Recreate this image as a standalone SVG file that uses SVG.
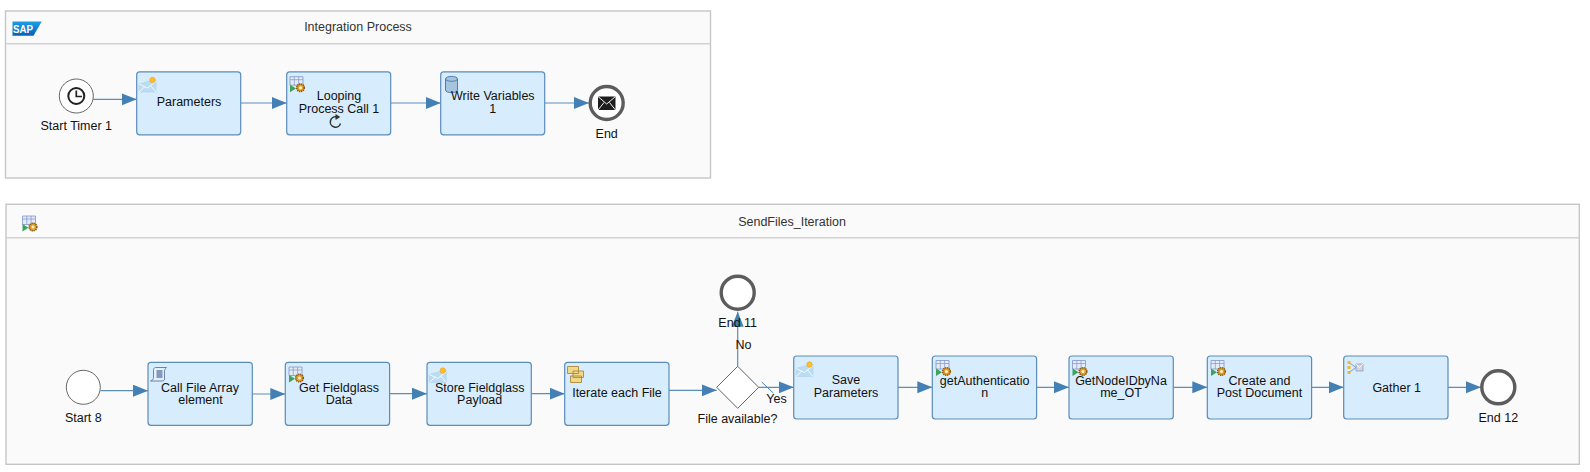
<svg xmlns="http://www.w3.org/2000/svg" width="1590" height="472" viewBox="0 0 1590 472">
<style>
text{font-family:"Liberation Sans",Arial,sans-serif;font-size:12.500px;fill:#111;text-anchor:middle}
.title{fill:#333}
.pool{fill:#fafafa;stroke:#c6c6c6;stroke-width:1.4}
.sep{stroke:#d2d2d2;stroke-width:1.4;fill:none}
.task{fill:#d7ecfd;stroke:#5a8dba;stroke-width:1.2}
.ev{fill:#fff;stroke:#666;stroke-width:1}
.end{fill:#fff;stroke:#5c5c5c;stroke-width:3.4}
.c{fill:none;stroke:#5a8fbc;stroke-width:1.2;marker-end:url(#a)}
</style>
<defs>
<marker id="a" markerUnits="userSpaceOnUse" markerWidth="16" markerHeight="13" refX="15" refY="6" orient="auto"><path d="M0 0L15 6L0 12Z" fill="#4480b3"/></marker>
<linearGradient id="sg" x1="0" y1="0" x2="0" y2="1"><stop offset="0" stop-color="#1aa0e8"/><stop offset="1" stop-color="#0a5fb5"/></linearGradient>
<g id="env"><path d="M0 4L14 0L17 0V12H0Z" fill="#bcdcf2" stroke="#a9cde6" stroke-width=".5"/><path d="M0 4L8.500 8L17 1M0 12L6 6.500M17 12L11 5" fill="none" stroke="#f2f9fe" stroke-width="1"/><circle cx="13.500" cy="0" r="2.700" fill="#fbc02d" stroke="#f59a23" stroke-width=".6"/></g>
<g id="proc"><path d="M0 0H13V8.500H0Z" fill="#e3ebf8" stroke="#7f95c8" stroke-width=".8"/><path d="M0 3H13M4.300 0V8.500M8.600 0V8.500" stroke="#7f95c8" stroke-width=".7" fill="none"/><path d="M0 8V15.500L6 11.700Z" fill="#3fa35c"/><circle cx="10.500" cy="11" r="3.800" fill="#e0a030" stroke="#8a5a10" stroke-width="1.600" stroke-dasharray="1.300 .7"/><circle cx="10.500" cy="11" r="1.500" fill="#fff2c4"/></g>
</defs>

<g id="pool-integration">
<rect class="pool" x="5.500" y="11" width="705" height="167"/>
<path class="sep" d="M5.500 43.700H710.500"/>
<path d="M12.500 21.500H41.700L33.500 35.700H12.500Z" fill="url(#sg)"/>
<text x="23" y="33" style="font-size:11.500px;font-weight:bold;fill:#fff" textLength="20" lengthAdjust="spacingAndGlyphs">SAP</text>
<text class="title" x="358" y="31">Integration Process</text>
</g>

<g id="pool-sendfiles">
<rect class="pool" x="6" y="204.300" width="1573.300" height="260"/>
<path class="sep" d="M6 237.700H1579.300"/>
<use href="#proc" transform="translate(22.500 216)"/>
<text class="title" x="792" y="226">SendFiles_Iteration</text>
</g>

<g id="connectors">
<path class="c" d="M93 99.300H136.700"/>
<path class="c" d="M240.700 103H286.700"/>
<path class="c" d="M390.700 103H440.700"/>
<path class="c" d="M545 103H589"/>
<path class="c" d="M100.500 390.700H148"/>
<path class="c" d="M252.300 394H285.300"/>
<path class="c" d="M389.600 393.700H427"/>
<path class="c" d="M531.300 393.700H564.700"/>
<path class="c" d="M669 390.300H716.700"/>
<path class="c" d="M737.700 366.300V311.700"/>
<path class="c" d="M758.700 387.300H793.700"/>
<path d="M761.700 382L773.300 393" fill="none" stroke="#4b83b4" stroke-width="1"/>
<path class="c" d="M898 387.300H932.300"/>
<path class="c" d="M1036.700 387.300H1069"/>
<path class="c" d="M1173.300 387.300H1207.300"/>
<path class="c" d="M1311.700 387.300H1343.700"/>
<path class="c" d="M1448 387.300H1481"/>
</g>

<g id="start-timer-1">
<circle class="ev" cx="76.300" cy="96" r="17"/>
<circle cx="76.300" cy="96" r="8" fill="none" stroke="#222" stroke-width="2"/>
<path d="M76.300 90.500V96.500H82" fill="none" stroke="#222" stroke-width="1.700"/>
<text x="76.300" y="130">Start Timer 1</text>
</g>
<g id="parameters">
<rect class="task" x="136.700" y="71.800" width="104" height="63" rx="3"/>
<use href="#env" x="139" y="80"/>
<text x="189" y="106">Parameters</text>
</g>
<g id="looping-process-call-1">
<rect class="task" x="286.700" y="71.800" width="104" height="63" rx="3"/>
<use href="#proc" x="290" y="76.700"/>
<text x="339" y="100">Looping</text>
<text x="339" y="113">Process Call 1</text>
<path d="M340.500 123.500A5.200 5.200 0 1 1 336.500 116.800" fill="none" stroke="#333" stroke-width="1.500"/>
<path d="M335.500 114L340.300 117L335.500 120Z" fill="#333"/>
</g>
<g id="write-variables-1">
<rect class="task" x="440.700" y="71.800" width="104" height="63" rx="3"/>
<path d="M445.500 79C445.500 75.500 457.500 75.500 457.500 79V90C457.500 93.500 445.500 93.500 445.500 90Z" fill="#a6c4df" stroke="#4f7ea8" stroke-width="1"/>
<path d="M445.500 79C445.500 82 457.500 82 457.500 79" fill="none" stroke="#4f7ea8" stroke-width="1"/>
<text x="492.800" y="100">Write Variables</text>
<text x="492.800" y="113">1</text>
</g>
<g id="end">
<circle class="end" cx="606.700" cy="103" r="16.500"/>
<path d="M598 96.500H615.500V110H598Z" fill="#1d1d1d"/>
<path d="M598 96.500L606.700 104L615.500 96.500M598 110L604 102.500M615.500 110L609.500 102.500" fill="none" stroke="#f2f2f2" stroke-width="1"/>
<text x="606.700" y="138">End</text>
</g>

<g id="start-8">
<circle class="ev" cx="83.300" cy="387.300" r="17"/>
<text x="83.300" y="422">Start 8</text>
</g>
<g id="call-file-array-element">
<rect class="task" x="148" y="362.300" width="104.300" height="63" rx="3"/>
<path d="M155.500 367.500H166.500C165 368.500 164.500 370 164.500 371V379C164.500 380.500 163.500 381 162 381H150.500C152.500 380.500 153.500 379 153.500 377.500V369.500C153.500 368.500 154.500 367.500 155.500 367.500Z" fill="#e4f0fa" stroke="#5a78a8" stroke-width=".9"/>
<path d="M156.500 371H162.500M156.500 373H162.500M156.500 375H162.500M156.500 377H162.500" stroke="#27408b" stroke-width="1"/>
<text x="200" y="391.500">Call File Array</text>
<text x="200.500" y="404">element</text>
</g>
<g id="get-fieldglass-data">
<rect class="task" x="285.300" y="362.300" width="104.300" height="63" rx="3"/>
<use href="#proc" x="289" y="367"/>
<text x="339" y="391.500">Get Fieldglass</text>
<text x="339" y="404">Data</text>
</g>
<g id="store-fieldglass-payload">
<rect class="task" x="427" y="362.300" width="104.300" height="63" rx="3"/>
<use href="#env" x="429.300" y="370.500"/>
<text x="479.700" y="391.500">Store Fieldglass</text>
<text x="479.700" y="404">Payload</text>
</g>
<g id="iterate-each-file">
<rect class="task" x="564.700" y="362.300" width="104.300" height="63" rx="3"/>
<path d="M567.500 366.500H578.500V373.500H567.500ZM573 371H583.500V377.500H573ZM570.500 376H581.500V382.500H570.500Z" fill="#f2d98a" stroke="#a98a3a" stroke-width=".9"/>
<text x="617" y="397">Iterate each File</text>
</g>
<g id="file-available">
<path d="M737.700 366.300L758.700 387.300L737.700 408.300L716.700 387.300Z" fill="#fff" stroke="#666" stroke-width="1"/>
<text x="737.500" y="423">File available?</text>
</g>
<g id="end-11">
<circle class="end" cx="737.700" cy="292.700" r="16.500"/>
<text x="737.700" y="327">End 11</text>
</g>
<text x="743.500" y="348.500">No</text>
<text x="776.500" y="403">Yes</text>
<g id="save-parameters">
<rect class="task" x="793.700" y="356" width="104.300" height="63" rx="3"/>
<use href="#env" x="796" y="364.500"/>
<text x="846" y="384">Save</text>
<text x="846" y="397">Parameters</text>
</g>
<g id="getauthentication">
<rect class="task" x="932.300" y="356" width="104.300" height="63" rx="3"/>
<use href="#proc" x="936" y="360.500"/>
<text x="984.700" y="384.500">getAuthenticatio</text>
<text x="984.700" y="397">n</text>
</g>
<g id="getnodeidbyname-ot">
<rect class="task" x="1069" y="356" width="104.300" height="63" rx="3"/>
<use href="#proc" x="1072.500" y="360.500"/>
<text x="1121" y="384.500">GetNodeIDbyNa</text>
<text x="1121" y="397">me_OT</text>
</g>
<g id="create-and-post-document">
<rect class="task" x="1207.300" y="356" width="104.300" height="63" rx="3"/>
<use href="#proc" x="1211" y="360.500"/>
<text x="1259.500" y="384.500">Create and</text>
<text x="1259.500" y="397">Post Document</text>
</g>
<g id="gather-1">
<rect class="task" x="1343.700" y="356" width="104.300" height="63" rx="3"/>
<path d="M1349 362.500L1356 367.500M1349 372.500L1356 367.500H1359" fill="none" stroke="#7f9cc0" stroke-width="1"/>
<path d="M1347.500 361H1350.500V364H1347.500ZM1347.500 366H1350.500V369H1347.500ZM1347.500 371H1350.500V374H1347.500Z" fill="#f2b632"/>
<path d="M1356 364H1363V371H1356Z" fill="#cfd6e6" stroke="#8a94b0" stroke-width=".7"/>
<path d="M1356 364L1359.500 367.500L1363 364" fill="none" stroke="#fff" stroke-width=".8"/>
<text x="1396.700" y="391.500">Gather 1</text>
</g>
<g id="end-12">
<circle class="end" cx="1498.300" cy="387.300" r="16.500"/>
<text x="1498.300" y="422">End 12</text>
</g>
</svg>
